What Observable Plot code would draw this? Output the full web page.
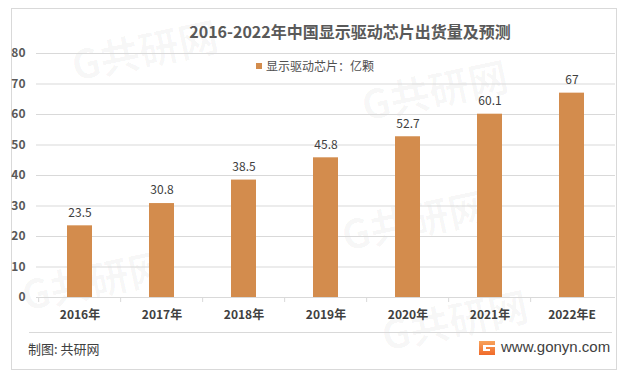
<!DOCTYPE html>
<html>
<head>
<meta charset="utf-8">
<script src="https://cdn.jsdelivr.net/npm/d3@7"></script>
<script src="https://cdn.jsdelivr.net/npm/@observablehq/plot@0.6"></script>
<style>
  html, body { margin: 0; padding: 0; background: #fff; }
  #wrap { position: relative; width: 628px; height: 376px; overflow: hidden; font-family: "Noto Sans CJK SC", "Noto Sans", sans-serif; }
  #frame { position: absolute; left: 11px; top: 8px; width: 604px; height: 360px; border: 1px solid #d9d9d9; }
  #title { position: absolute; left: 0; width: 700px; top: 20px; text-align: center; font-size: 16px; font-weight: bold; color: #595959; line-height: 22px; }
  #legend { position: absolute; left: 256px; top: 58px; font-size: 12px; color: #505050; line-height: 16px; }
  #legend span.sw { display: inline-block; width: 6px; height: 6px; background: #d38c4d; margin-right: 4px; vertical-align: 2px; }
  #sep { position: absolute; left: 29px; top: 332px; width: 583px; height: 1px; background: #d9d9d9; }
  #credit { position: absolute; left: 28px; top: 340px; font-size: 13px; color: #404040; line-height: 18px; }
  #site { position: absolute; left: 501px; top: 338px; font-family: "Liberation Sans", Arial, sans-serif; font-size: 15px; color: #404040; line-height: 18px; }
  #logo { position: absolute; left: 479px; top: 341px; }
  #plot { position: absolute; left: 0; top: 0; }
  .wm { position: absolute; color: rgba(0,0,0,0.03); font-weight: bold; transform: rotate(-12deg); white-space: nowrap; }
</style>
</head>
<body>
<div id="wrap">
  <div class="wm" style="left:70px;top:20px;font-size:40px;">G共研网</div>
  <div class="wm" style="left:360px;top:60px;font-size:40px;">G共研网</div>
  <div class="wm" style="left:340px;top:190px;font-size:40px;">G共研网</div>
  <div class="wm" style="left:20px;top:250px;font-size:40px;">G共研网</div>
  <div class="wm" style="left:380px;top:290px;font-size:40px;">G共研网</div>
  <div id="frame"></div>
  <div id="plot"></div>
  <div id="title">2016-2022年中国显示驱动芯片出货量及预测</div>
  <div id="legend"><span class="sw"></span>显示驱动芯片：亿颗</div>
  <div id="sep"></div>
  <div id="credit">制图: 共研网</div>
  <svg id="logo" width="16" height="14" viewBox="0 0 16 14">
    <defs><linearGradient id="lg" x1="0" y1="0" x2="0" y2="1"><stop offset="0" stop-color="#f7a35c"/><stop offset="1" stop-color="#f06a2a"/></linearGradient></defs>
    <path d="M0 0H16V4H4V10H11V8H7V6H16V14H0Z" fill="url(#lg)"/>
  </svg>
  <div id="site">www.gonyn.com</div>
</div>
<script>
const years = ["2016年", "2017年", "2018年", "2019年", "2020年", "2021年", "2022年E"];
const shipments = [23.5, 30.8, 38.5, 45.8, 52.7, 60.1, 67];
const valueLabels = ["23.5", "30.8", "38.5", "45.8", "52.7", "60.1", "67"];
const yTicks = [0, 10, 20, 30, 40, 50, 60, 70, 80];

const data = years.map((y, i) => ({year: y, value: shipments[i], label: valueLabels[i]}));

const W = 628, H = 376, mL = 36, mR = 13, mT = 53, mB = 79;
const step = (W - mL - mR) / years.length;

const chart = Plot.plot({
  width: W,
  height: H,
  marginLeft: mL,
  marginRight: mR,
  marginTop: mT,
  marginBottom: mB,
  style: {fontFamily: "'Noto Sans CJK SC', 'Noto Sans', sans-serif", fontSize: "12px", background: "transparent", color: "#404040"},
  x: {domain: years, paddingInner: 0.69, paddingOuter: 0.345, label: null},
  y: {domain: [0, 80], label: null},
  marks: [
    Plot.gridY(yTicks, {stroke: "#d9d9d9", strokeOpacity: 1}),
    Plot.ruleY([0], {stroke: "#d9d9d9"}),
    Plot.ruleX(years, {x: d => d, y1: 0, y2: 0, dx: -step / 2, insetBottom: -5, stroke: "#d9d9d9"}),
    Plot.barY(data, {x: "year", y: "value", fill: "#d38c4d"}),
    Plot.text(data, {x: "year", y: "value", text: "label", dy: -13, fill: "#404040", fontSize: 12}),
    Plot.axisY(yTicks, {tickSize: 0, tickPadding: 11, fill: "#595959", fontSize: 12, fontWeight: "bold"}),
    Plot.axisX({tickSize: 0, tickPadding: 13, fill: "#404040", fontSize: 12, fontWeight: "bold"})
  ]
});
document.getElementById("plot").appendChild(chart);
</script>
</body>
</html>
